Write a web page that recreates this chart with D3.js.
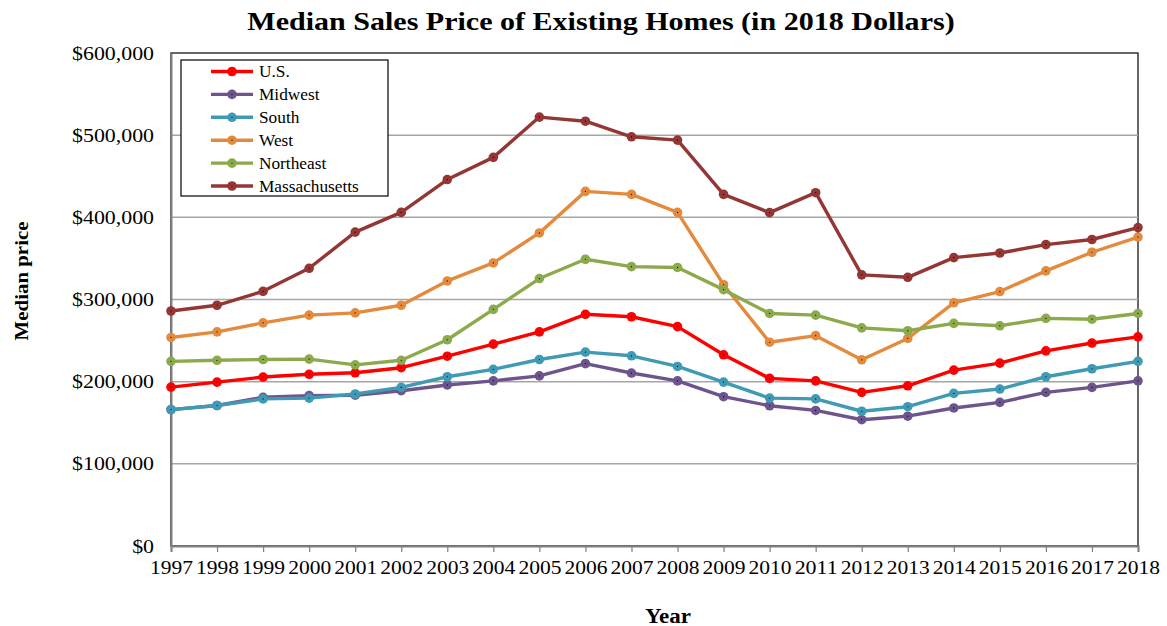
<!DOCTYPE html>
<html>
<head>
<meta charset="utf-8">
<script src="https://cdn.jsdelivr.net/npm/d3@7"></script>
<style>
  html, body { margin: 0; padding: 0; background: #fff; }
  svg { display: block; font-family: "Liberation Serif", "Times New Roman", serif; }
</style>
</head>
<body>
<svg id="chart" width="1167" height="626"></svg>
<script>
// Years on the x axis
const years = [1997, 1998, 1999, 2000, 2001, 2002, 2003, 2004, 2005, 2006, 2007,
               2008, 2009, 2010, 2011, 2012, 2013, 2014, 2015, 2016, 2017, 2018];

// Median sales price of existing homes, in 2018 dollars
const us = [193400, 199500, 205600, 209000, 210800, 217000, 231000, 245700, 260600, 282000, 279000,
            267000, 232700, 204000, 201000, 187000, 195000, 214000, 222600, 237500, 247000, 254500];
const midwest = [166000, 171000, 181000, 183000, 183500, 189000, 196000, 201000, 207000, 222000, 210500,
                 201000, 181700, 170700, 165000, 153700, 158000, 168000, 174800, 187000, 193000, 201000];
const south = [166000, 171000, 179000, 180000, 185000, 193000, 206000, 215000, 227000, 236000, 231500,
               218500, 199500, 180000, 179000, 164000, 169500, 185700, 191000, 206000, 215700, 224700];
const west = [253800, 260600, 271600, 281000, 283700, 293000, 322600, 344500, 381000, 431600, 428000,
              406000, 318000, 248000, 256000, 226600, 252600, 296000, 309700, 334800, 357500, 376000];
const northeast = [224700, 226000, 227000, 227400, 220500, 226000, 251000, 288000, 325500, 349000, 340000,
                   339000, 312000, 283000, 281000, 265500, 262000, 271000, 268000, 277000, 276000, 283000];
const massachusetts = [286000, 293000, 310000, 338000, 382000, 406000, 446000, 473000, 522000, 517000, 498000,
                       494000, 428000, 405700, 430000, 330000, 327000, 351000, 356600, 366800, 373000, 387500];

const seriesNames = ["U.S.", "Midwest", "South", "West", "Northeast", "Massachusetts"];
const seriesValues = [us, midwest, south, west, northeast, massachusetts];
const seriesColors = ["#FF0000", "#6E548D", "#3F9AB3", "#E38A3C", "#8BAA4B", "#943634"];

const yTicks = [0, 100000, 200000, 300000, 400000, 500000, 600000];

const svg = d3.select("#chart");
const margin = { left: 171, right: 1138, top: 53, bottom: 546 };

const x = d3.scaleLinear().domain([1997, 2018]).range([margin.left, margin.right]);
const y = d3.scaleLinear().domain([0, 600000]).range([margin.bottom, margin.top]);

// Widen text slightly (the chart's type is set a little wide)
function widen(sel, f) {
  sel.each(function () {
    const w = this.getComputedTextLength();
    d3.select(this).attr("textLength", w * f).attr("lengthAdjust", "spacingAndGlyphs");
  });
}

// Title
svg.append("text")
  .attr("x", 601).attr("y", 30)
  .attr("text-anchor", "middle")
  .attr("font-size", 26).attr("font-weight", "bold")
  .text("Median Sales Price of Existing Homes (in 2018 Dollars)")
  .call(widen, 1.155);

// Plot frame
svg.append("rect")
  .attr("x", margin.left).attr("y", margin.top)
  .attr("width", margin.right - margin.left)
  .attr("height", margin.bottom - margin.top)
  .attr("fill", "none").attr("stroke", "#000").attr("stroke-width", 1.2);

// Horizontal gridlines
svg.append("g")
  .selectAll("line")
  .data(yTicks.filter(d => d > 0 && d < 600000))
  .join("line")
  .attr("x1", margin.left).attr("x2", margin.right)
  .attr("y1", d => y(d)).attr("y2", d => y(d))
  .attr("stroke", "#A6A6A6").attr("stroke-width", 1.5);

// Y axis
const yAxis = svg.append("g")
  .attr("transform", `translate(${margin.left},0)`)
  .call(d3.axisLeft(y).tickValues(yTicks).tickSize(0).tickPadding(17)
    .tickFormat(d => "$" + d3.format(",")(d)));
yAxis.select(".domain").attr("stroke", "#808080").attr("stroke-width", 2);
yAxis.selectAll("text")
  .attr("font-family", "Liberation Serif, Times New Roman, serif")
  .attr("font-size", 19).attr("fill", "#000")
  .call(widen, 1.15);

// X axis
const xAxis = svg.append("g")
  .attr("transform", `translate(0,${margin.bottom})`)
  .call(d3.axisBottom(x).tickValues(years).tickSize(6).tickPadding(9)
    .tickFormat(d3.format("d")));
xAxis.select(".domain").attr("stroke", "#808080").attr("stroke-width", 2);
xAxis.selectAll(".tick line").attr("stroke", "#808080").attr("stroke-width", 1.2);
xAxis.selectAll("text")
  .attr("font-family", "Liberation Serif, Times New Roman, serif")
  .attr("font-size", 19).attr("fill", "#000")
  .attr("textLength", 43).attr("lengthAdjust", "spacingAndGlyphs");

// Axis titles
svg.append("text")
  .attr("x", 668).attr("y", 623)
  .attr("text-anchor", "middle")
  .attr("font-size", 20).attr("font-weight", "bold")
  .text("Year")
  .call(widen, 1.15);
svg.append("text")
  .attr("transform", "translate(28,281) rotate(-90)")
  .attr("text-anchor", "middle")
  .attr("font-size", 19).attr("font-weight", "bold")
  .text("Median price")
  .call(widen, 1.1);

// Series lines and markers
const line = d3.line().x((d, i) => x(years[i])).y(d => y(d));
const plot = svg.append("g");
seriesValues.forEach((vals, k) => {
  const g = plot.append("g");
  g.append("path")
    .datum(vals)
    .attr("d", line)
    .attr("fill", "none")
    .attr("stroke", seriesColors[k])
    .attr("stroke-width", 3.4)
    .attr("stroke-linejoin", "round");
  g.selectAll("circle.m")
    .data(vals)
    .join("circle")
    .attr("class", "m")
    .attr("cx", (d, i) => x(years[i]))
    .attr("cy", d => y(d))
    .attr("r", 4.8)
    .attr("fill", seriesColors[k]);
  g.selectAll("circle.c")
    .data(vals)
    .join("circle")
    .attr("class", "c")
    .attr("cx", (d, i) => x(years[i]))
    .attr("cy", d => y(d))
    .attr("r", 0.6)
    .attr("fill", "#000");
});

// Legend
const legend = svg.append("g");
legend.append("rect")
  .attr("x", 181).attr("y", 60)
  .attr("width", 207).attr("height", 136)
  .attr("fill", "#fff").attr("stroke", "#000").attr("stroke-width", 1.2);
seriesNames.forEach((name, k) => {
  const ly = 71.5 + k * 22.9;
  legend.append("line")
    .attr("x1", 211).attr("x2", 253)
    .attr("y1", ly).attr("y2", ly)
    .attr("stroke", seriesColors[k]).attr("stroke-width", 3.4);
  legend.append("circle")
    .attr("cx", 232).attr("cy", ly).attr("r", 4.8)
    .attr("fill", seriesColors[k]);
  legend.append("circle")
    .attr("cx", 232).attr("cy", ly).attr("r", 0.6)
    .attr("fill", "#000");
  legend.append("text")
    .attr("x", 259).attr("y", ly + 5.5)
    .attr("font-size", 16)
    .text(name)
    .call(widen, 1.08);
});
</script>
</body>
</html>
